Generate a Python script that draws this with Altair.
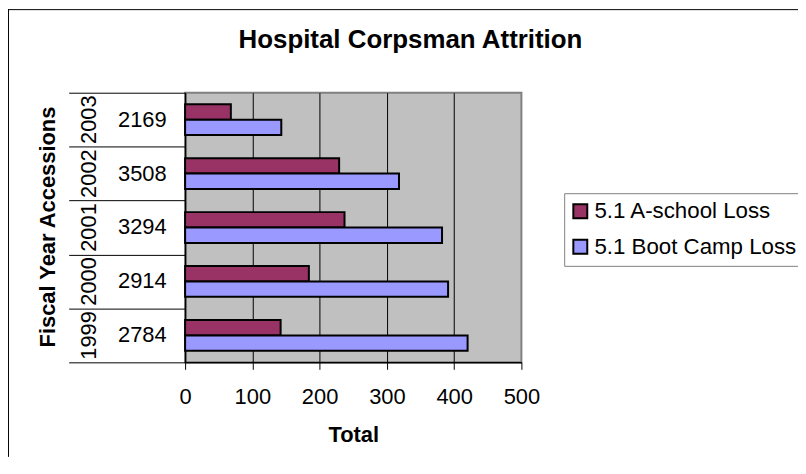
import altair as alt
import pandas as pd

# ---- data ----
years = ["2003", "2002", "2001", "2000", "1999"]
accessions = ["2169", "3508", "3294", "2914", "2784"]
a_school_loss = [68, 229, 237, 184, 142]
boot_camp_loss = [143, 318, 382, 391, 420]
series_names = ["5.1 A-school Loss", "5.1 Boot Camp Loss"]
series_colors = ["#993366", "#9999FF"]
x_ticks = [0, 100, 200, 300, 400, 500]
chart_title = "Hospital Corpsman Attrition"
y_title = "Fiscal Year Accessions"
x_title = "Total"

rows = []
for yr, a, b in zip(years, a_school_loss, boot_camp_loss):
    rows.append({"year": yr, "series": series_names[0], "value": a})
    rows.append({"year": yr, "series": series_names[1], "value": b})
bars_df = pd.DataFrame(rows)
labels_df = pd.DataFrame({"year": years, "acc": accessions})
dummy = pd.DataFrame({"t": [chart_title], "yt": [y_title]})

FONT = "Liberation Sans"
W, H = 338, 271

y_enc = alt.Y(
    "year:N",
    sort=years,
    scale=alt.Scale(domain=years, paddingInner=0, paddingOuter=0),
    axis=alt.Axis(
        title=None, labels=False, grid=False,
        domain=True, domainColor="black", domainWidth=1.5,
        ticks=True, tickBand="extent", tickSize=117, tickColor="black", tickWidth=1,
    ),
)

bars = alt.Chart(bars_df).mark_bar(stroke="black", strokeWidth=2).encode(
    x=alt.X(
        "value:Q",
        scale=alt.Scale(domain=[0, 500], nice=False),
        axis=alt.Axis(
            values=x_ticks, format="d", title=x_title,
            labelFont=FONT, labelFontSize=22, labelColor="black", labelPadding=17.5,
            labelFlush=False,
            tickSize=7, tickColor="black", tickWidth=1,
            domainColor="black", domainWidth=1.5,
            grid=True, gridColor="black", gridWidth=1,
            gridOpacity={"condition": {"test": "datum.value >= 500", "value": 0}, "value": 1},
            titleFont=FONT, titleFontSize=22, titleFontWeight="bold", titleColor="black",
            titleY=80, titleBaseline="alphabetic",
        ),
    ),
    y=y_enc,
    yOffset=alt.YOffset("series:N", sort=series_names,
                        scale=alt.Scale(domain=series_names, paddingOuter=0.75, paddingInner=0)),
    color=alt.Color(
        "series:N",
        scale=alt.Scale(domain=series_names, range=series_colors),
        legend=alt.Legend(
            orient="none", legendX=381, legendY=101, title=None, direction="vertical",
            fillColor="white", strokeColor="#808080", padding=7,
            symbolType="square", symbolSize=196, symbolStrokeColor="black", symbolStrokeWidth=2,
            symbolOpacity=1, symbolOffset=-2,
            labelFont=FONT, labelFontSize=22.4, labelColor="black", labelOffset=3,
            labelLimit=0, rowPadding=12.7,
        ),
    ),
)

year_labels = alt.Chart(labels_df).mark_text(
    angle=270, font=FONT, fontSize=22, color="black", align="center", baseline="middle"
).encode(y=y_enc, x=alt.value(-96.4), text="year:N")

acc_labels = alt.Chart(labels_df).mark_text(
    font=FONT, fontSize=22, color="black", align="center", baseline="middle"
).encode(y=y_enc, x=alt.value(-43), text="acc:N")

title_text = alt.Chart(dummy).mark_text(
    font=FONT, fontSize=26, fontWeight="bold", color="black", align="center", baseline="alphabetic"
).encode(x=alt.value(226.5), y=alt.value(-45), text="t:N")

ytitle_text = alt.Chart(dummy).mark_text(
    angle=270, font=FONT, fontSize=22, fontWeight="bold", color="black",
    align="center", baseline="middle"
).encode(x=alt.value(-137.7), y=alt.value(135), text="yt:N")

border_left = alt.Chart(dummy).mark_rule(color="black", strokeWidth=1).encode(
    x=alt.value(-177.5), y=alt.value(-84), y2=alt.value(366)
)
border_top = alt.Chart(dummy).mark_rule(color="black", strokeWidth=1).encode(
    x=alt.value(-178), x2=alt.value(616), y=alt.value(-83.5)
)

chart = alt.layer(
    bars, year_labels, acc_labels, title_text, ytitle_text, border_left, border_top
).properties(
    width=W, height=H,
    padding={"left": 178, "top": 84, "right": 278, "bottom": 95},
    autosize=alt.AutoSizeParams(type="none"),
    background="white",
).configure_view(
    fill="#C0C0C0", stroke="#808080", strokeWidth=2
)

chart.save("out.html", embed_options={"renderer": "svg", "actions": False})
